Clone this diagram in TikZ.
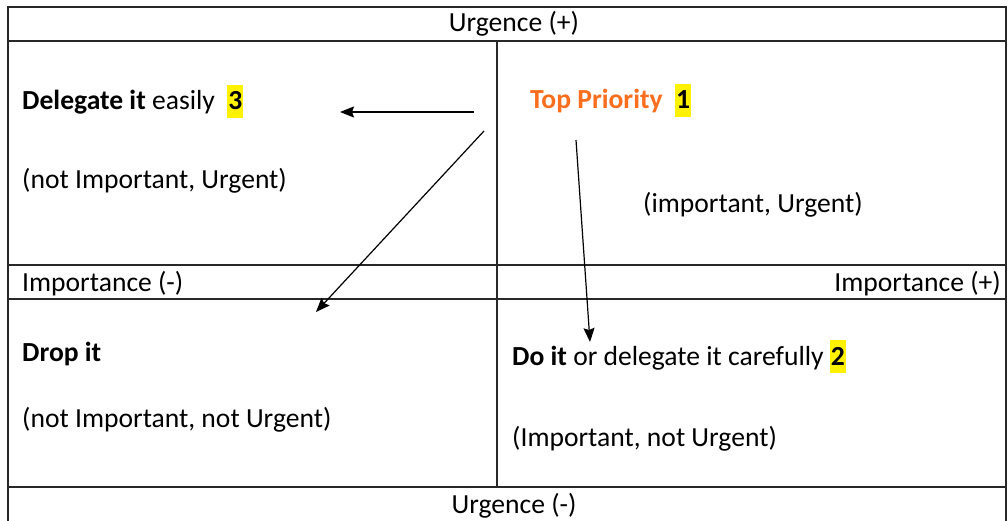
\documentclass[tikz,border=0pt]{standalone}
\usepackage{fontspec}
\setmainfont{Carlito}
\usetikzlibrary{arrows.meta}
\definecolor{prioorange}{RGB}{250,110,30}
\definecolor{gridline}{RGB}{40,40,40}
\newcommand{\hlnum}[1]{{\setlength{\fboxsep}{0pt}\colorbox{yellow}{\kern1pt\rule[-8pt]{0pt}{33pt}#1\kern1pt}}}
\begin{document}
\begin{tikzpicture}[x=1pt,y=-1pt,
  grid/.style={draw=gridline,line width=1.3pt},
  txt/.style={inner sep=0pt,anchor=base west,font=\fontsize{27.6}{33}\selectfont},
  ctxt/.style={inner sep=0pt,anchor=base,font=\fontsize{27.6}{33}\selectfont},
  rtxt/.style={inner sep=0pt,anchor=base east,font=\fontsize{27.6}{33}\selectfont},
  flow/.style={draw=black,line width=1.2pt,-{Stealth[length=14pt,width=11pt,inset=2pt]}}]
\useasboundingbox (0,0) rectangle (1008,521);
\fill[white] (0,0) rectangle (1008,521);

% table grid
\draw[grid] (8,521) -- (8,7) -- (1006,7) -- (1006,521);
\draw[grid] (8,41) -- (1006,41);
\draw[grid] (8,265) -- (1006,265);
\draw[grid] (8,299) -- (1006,299);
\draw[grid] (8,487) -- (1006,487);
\draw[grid] (497,41) -- (497,487);

% axis labels
\node[ctxt] (uplus) at (514,32) {Urgence (+)};
\node[ctxt] (uminus) at (514,513) {Urgence (-)};
\node[txt] (iminus) at (22,291) {Importance (-)};
\node[rtxt] (iplus) at (1001,291) {Importance (+)};

% quadrant texts
\node[txt] (deleg) at (22,110) {\textbf{Delegate it} easily \ \hlnum{\textbf{3}}};
\node[txt] (delegsub) at (22,189) {(not Important, Urgent)};
\node[txt] (top) at (530,109) {\textcolor{prioorange}{\textbf{Top Priority}} \ \hlnum{\textbf{1}}};
\node[txt] (topsub) at (643,213) {(important, Urgent)};
\node[txt] (drop) at (22,361) {\textbf{Drop it}};
\node[txt] (dropsub) at (22,427) {(not Important, not Urgent)};
\node[txt] (doit) at (512,365) {\textbf{Do it} or delegate it carefully \hlnum{\textbf{2}}};
\node[txt] (doitsub) at (512,446) {(Important, not Urgent)};

% arrows
\coordinate (a1s) at (474,112);
\coordinate (a1e) at (340,112);
\coordinate (a2s) at (484,131);
\coordinate (a2e) at (316,312);
\coordinate (a3s) at (576,140);
\coordinate (a3e) at (590,342);
\draw[flow] (a1s) -- (a1e);
\draw[flow] (a2s) -- (a2e);
\draw[flow] (a3s) -- (a3e);
\end{tikzpicture}
\end{document}
